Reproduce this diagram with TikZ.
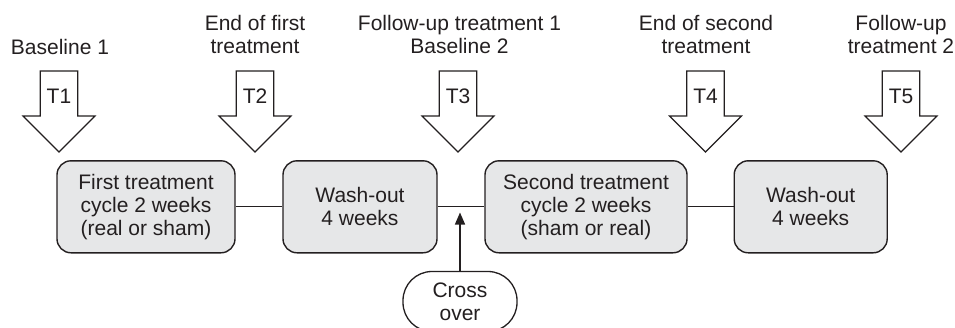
\documentclass[tikz,border=0pt]{standalone}
\usepackage{fontspec}
\setmainfont{Liberation Sans}
\usetikzlibrary{arrows.meta}
\definecolor{ink}{HTML}{231F20}
\definecolor{boxfill}{HTML}{E6E7E8}
\begin{document}
\begin{tikzpicture}[x=1pt,y=-1pt,
  font=\fontsize{21}{23}\selectfont,
  phase/.style={draw=ink, line width=1.4pt, fill=boxfill, rounded corners=14pt,
    minimum height=92pt, align=center, inner sep=0pt, text=ink},
  toplbl/.style={align=center, text=ink, inner sep=0pt, anchor=north},
  tlbl/.style={text=ink, inner sep=0pt},
  link/.style={draw=ink, line width=1.3pt},
  crossbox/.style={draw=ink, line width=1.3pt, fill=white, rounded corners=29pt,
    minimum width=114pt, minimum height=60pt, align=center, inner sep=0pt, text=ink},
  blockarrow/.pic={\draw[ink, line width=1.2pt, fill=white, line join=miter]
    (-18.7,71) -- (18.7,71) -- (18.7,116) -- (36,116) -- (0,152) -- (-36,116)
    -- (-18.7,116) -- cycle;}
]
\clip (0,0) rectangle (955,327);

% block arrows
\foreach \cx in {59,255,458,705.5,901} {\pic at (\cx,0) {blockarrow};}
\node[tlbl] (t1) at (59,96) {T1};
\node[tlbl] (t2) at (255,96) {T2};
\node[tlbl] (t3) at (458,96) {T3};
\node[tlbl] (t4) at (705.5,96) {T4};
\node[tlbl] (t5) at (901,96) {T5};

% top labels
\node[toplbl] (l1) at (60,39.5) {Baseline 1};
\node[toplbl] (l2) at (255,15.5) {End of first\\treatment};
\node[toplbl] (l3) at (459.5,15.5) {Follow-up treatment 1\\Baseline 2};
\node[toplbl] (l4) at (706,15.5) {End of second\\treatment};
\node[toplbl] (l5) at (901,15.5) {Follow-up\\treatment 2};

% phase boxes
\node[phase, minimum width=178pt] (b1) at (146,206.8) {First treatment\\cycle 2 weeks\\(real or sham)};
\node[phase, minimum width=154pt] (b2) at (360,206.8) {Wash-out\\4 weeks};
\node[phase, minimum width=202pt] (b3) at (586,206.8) {Second treatment\\cycle 2 weeks\\(sham or real)};
\node[phase, minimum width=153pt] (b4) at (810.7,206.8) {Wash-out\\4 weeks};

\draw[link] (b1.east) -- (b2.west);
\draw[link] (b2.east) -- (b3.west);
\draw[link] (b3.east) -- (b4.west);

% cross over
\node[crossbox] (cross) at (460,301.5) {Cross\\over};
\coordinate (xtip) at (460,212.5);
\draw[link, -{Triangle[length=12pt,width=10pt]}] (cross.north) -- (xtip);
\end{tikzpicture}
\end{document}
